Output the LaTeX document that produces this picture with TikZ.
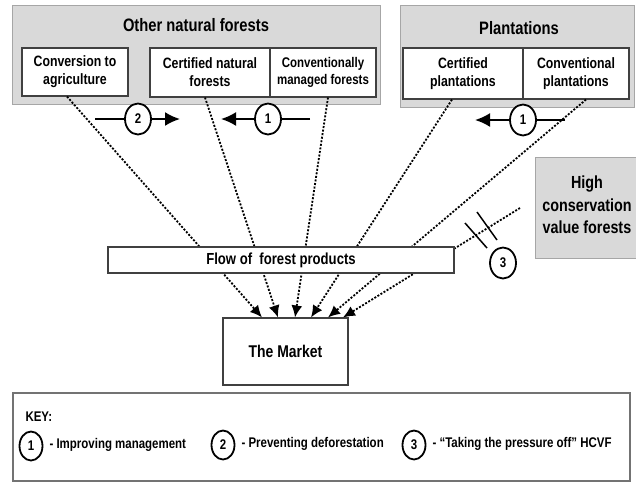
\documentclass[tikz,border=0pt]{standalone}
\usepackage{fontspec}
\setmainfont{Liberation Sans}[FakeStretch=0.82]
\usetikzlibrary{shapes.geometric,arrows.meta}
\definecolor{panel}{HTML}{D9D9D9}
\definecolor{panelline}{HTML}{A6A6A6}

\begin{document}
\begin{tikzpicture}[x=1pt,y=-1pt,>={Latex[length=12pt,width=11pt]}]
		\tikzstyle{every edge}=[draw]
		\tikzstyle{group}=[draw=panelline,fill=panel,line width=0.8pt]
		\tikzstyle{title}=[font=\bfseries\fontsize{18}{20}\selectfont]
		\tikzstyle{box}=[draw=black!75,fill=white,line width=1.1pt,align=center,inner sep=0pt,font=\bfseries\fontsize{15}{18}\selectfont]
		\tikzstyle{num}=[ellipse,draw,line width=1.8pt,fill=white,minimum width=26pt,minimum height=31pt,inner sep=0pt,font=\bfseries\fontsize{14}{14}\selectfont]
		\tikzstyle{keytext}=[anchor=west,font=\bfseries\fontsize{14}{14}\selectfont]
		\tikzstyle{supply}=[dash pattern=on 2pt off 1.6pt,line width=1.8pt,->]
		\tikzstyle{push}=[line width=2pt]

		\fill[white] (0,0) rectangle (636,483);
		\useasboundingbox (0,0) rectangle (636,483);

		% sources
		\node (onf) at (196,54.5) [group,minimum width=368pt,minimum height=99pt] {};
		\node (onft) at (196,25) [title] {Other natural forests};
		\node (conv) at (75,72) [box,minimum width=106pt,minimum height=48pt] {Conversion to\\agriculture};
		\node (certnat) at (210,72.5) [box,minimum width=120pt,minimum height=49pt] {Certified natural\\forests};
		\node (convman) at (323,72.5) [box,minimum width=106pt,minimum height=49pt,font=\bfseries\fontsize{14}{17}\selectfont] {Conventionally\\managed forests};

		\node (plant) at (517,56) [group,minimum width=234pt,minimum height=102pt] {};
		\node (plantt) at (519,28) [title] {Plantations};
		\node (certpl) at (463,73.5) [box,minimum width=120pt,minimum height=51pt] {Certified\\plantations};
		\node (convpl) at (576,73.5) [box,minimum width=106pt,minimum height=51pt] {Conventional\\plantations};

		\node (hcvf) at (590,207.5) [group,minimum width=110pt,minimum height=101pt] {};
		\node (hcvft) at (587,205) [align=center,font=\bfseries\fontsize{17.5}{22.5}\selectfont] {High\\conservation\\value forests};

		% market
		\node (market) at (285.5,351.5) [box,minimum width=125pt,minimum height=67pt,font=\bfseries\fontsize{17}{17}\selectfont] {The Market};

		% flows into the market
		\coordinate (hcvfend) at (520,208);
		\path [supply] ([xshift=-8pt]conv.south) edge ([xshift=-23.5pt]market.north);
		\path [supply] ([xshift=-5pt]certnat.south) edge ([xshift=-7.5pt]market.north);
		\path [supply] ([xshift=5pt]convman.south) edge ([xshift=9.5pt]market.north);
		\path [supply] ([xshift=-11pt]certpl.south) edge ([xshift=25.5pt]market.north);
		\path [supply] ([xshift=10pt]convpl.south) edge ([xshift=42.5pt]market.north);
		\path [supply] (hcvfend) edge ([xshift=57.5pt]market.north);

		\node (flow) at (281,260) [box,minimum width=346pt,minimum height=26pt,font=\bfseries\fontsize{16}{16}\selectfont] {Flow of\ \ forest products};

		% measures
		\coordinate (a2l) at (95,119);
		\coordinate (a2r) at (180,119);
		\node (m2) at (138,119) [num] {2};
		\path [push] (a2l) edge (m2);
		\path [push,->,>={Latex[length=15pt,width=14pt]}] (m2) edge (a2r);

		\coordinate (a1r) at (310,119);
		\coordinate (a1l) at (221,119);
		\node (m1) at (268,119) [num] {1};
		\path [push] (a1r) edge (m1);
		\path [push,->,>={Latex[length=15pt,width=14pt]}] (m1) edge (a1l);

		\coordinate (b1r) at (565,120);
		\coordinate (b1l) at (475,120);
		\node (n1) at (523,120) [num] {1};
		\path [push] (b1r) edge (n1);
		\path [push,->,>={Latex[length=15pt,width=14pt]}] (n1) edge (b1l);

		\coordinate (cut1a) at (465,223);
		\coordinate (cut1b) at (487,248);
		\coordinate (cut2a) at (477,212);
		\coordinate (cut2b) at (497,240);
		\path [line width=1.5pt] (cut1a) edge (cut1b) (cut2a) edge (cut2b);
		\node (m3) at (503,263) [num] {3};

		% key
		\node (key) at (321.5,437) [draw=black!55,line width=1.1pt,minimum width=617pt,minimum height=88pt] {};
		\node (keyt) at (22,417) [keytext] {KEY:};
		\node (k1) at (31,446) [num,minimum width=23pt,minimum height=29pt] {1};
		\node (k1t) at (46,445) [keytext] {- Improving management};
		\node (k2) at (223,445) [num,minimum width=23pt,minimum height=29pt] {2};
		\node (k2t) at (238,444) [keytext] {- Preventing deforestation};
		\node (k3) at (414,445) [num,minimum width=23pt,minimum height=29pt] {3};
		\node (k3t) at (429,444) [keytext] {- ``Taking the pressure off'' HCVF};
	\end{tikzpicture}
\end{document}
